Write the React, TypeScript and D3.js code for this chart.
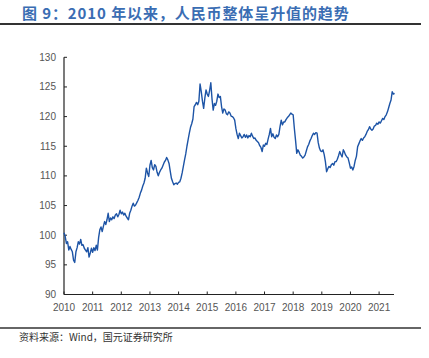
import React from "react";
import * as d3 from "d3";

const title = "图 9：2010 年以来，人民币整体呈升值的趋势";
const source = "资料来源：Wind，国元证券研究所";
const yTicks = [90, 95, 100, 105, 110, 115, 120, 125, 130];
const xTickYears = [2010, 2011, 2012, 2013, 2014, 2015, 2016, 2017, 2018, 2019, 2020, 2021];

// semi-monthly readings per year
const v2010 = [100.4, 99.8, 98.6, 98.9, 97.5, 98.1, 97.6, 97.2, 95.8, 95.4, 97.2, 97.9, 98.9, 98.5, 99.3, 98.3, 98.4, 97.8, 97.5, 97.2, 97.9, 96.3, 97.0, 97.8];
const v2011 = [97.1, 97.9, 97.4, 98.3, 97.5, 99.6, 100.9, 101.4, 100.6, 101.5, 102.3, 101.8, 102.6, 103.7, 102.3, 102.9, 102.6, 103.1, 102.8, 103.4, 103.6, 103.1, 103.5, 104.2];
const v2012 = [103.6, 103.9, 103.4, 103.7, 103.2, 102.9, 102.6, 103.7, 104.2, 104.9, 105.4, 104.9, 105.1, 105.5, 105.9, 106.4, 107.1, 107.6, 108.3, 108.8, 109.6, 111.3, 110.5, 109.9];
const v2013 = [111.8, 112.6, 111.4, 111.0, 111.9, 111.6, 110.6, 110.0, 110.6, 111.0, 111.3, 111.8, 112.3, 112.6, 113.1, 112.7, 112.1, 110.8, 109.6, 109.0, 108.5, 108.7, 108.8, 108.6];
const v2014 = [108.9, 109.0, 109.6, 110.5, 111.6, 112.7, 113.7, 115.0, 116.1, 117.2, 118.2, 118.8, 119.6, 121.7, 122.0, 122.4, 122.0, 122.6, 125.5, 124.2, 122.6, 121.4, 123.1, 124.5];
const v2015 = [123.8, 123.4, 124.4, 125.7, 123.0, 121.1, 122.2, 121.9, 122.6, 123.8, 123.2, 123.4, 121.7, 120.6, 121.3, 121.1, 120.5, 120.3, 120.8, 120.6, 120.1, 120.0, 119.8, 119.4];
const v2016 = [118.0, 117.0, 116.3, 117.2, 116.8, 116.4, 116.6, 117.0, 116.5, 116.9, 116.4, 116.8, 116.6, 117.2, 116.7, 116.3, 116.4, 116.0, 115.8, 115.6, 115.1, 114.8, 114.1, 115.2];
const v2017 = [115.0, 115.5, 115.3, 116.2, 117.0, 118.0, 116.6, 117.1, 116.5, 116.3, 116.9, 116.6, 117.0, 118.3, 119.4, 118.6, 119.1, 119.1, 119.5, 119.8, 120.0, 120.3, 120.6, 120.4];
const v2018 = [120.3, 118.0, 116.0, 113.8, 114.4, 114.0, 113.5, 113.3, 113.0, 113.2, 113.5, 114.2, 114.9, 115.3, 115.9, 116.3, 116.8, 117.2, 117.0, 117.3, 117.2, 115.6, 114.7, 114.2];
const v2019 = [114.1, 114.4, 113.6, 112.4, 110.7, 111.2, 111.6, 111.4, 111.9, 112.1, 111.8, 112.4, 112.4, 112.8, 113.4, 114.1, 113.6, 113.2, 114.4, 114.0, 113.5, 113.2, 113.0, 112.2];
const v2020 = [111.3, 111.5, 111.0, 111.6, 112.6, 113.3, 114.9, 115.4, 115.9, 116.3, 116.0, 116.4, 116.6, 117.0, 117.5, 117.8, 118.3, 117.9, 117.7, 117.9, 118.4, 118.5, 118.9, 118.7];
const v2021 = [119.1, 118.9, 119.3, 119.7, 119.5, 120.0, 120.3, 120.8, 121.5, 122.2, 122.8, 124.2, 123.8, 123.9];

const yearly: [number, number[]][] = [
  [2010, v2010], [2011, v2011], [2012, v2012], [2013, v2013], [2014, v2014], [2015, v2015],
  [2016, v2016], [2017, v2017], [2018, v2018], [2019, v2019], [2020, v2020], [2021, v2021],
];

const series = yearly.flatMap(([yr, vals]) => vals.map((v, i) => ({ t: yr + i / 24, v })));

export default function App() {
  const W = 429, H = 358;
  const x = d3.scaleLinear().domain([2010, 2021.52]).range([64, 394]);
  const y = d3.scaleLinear().domain([90, 130]).range([294.5, 57.3]);
  const line = d3.line<{ t: number; v: number }>().x(d => x(d.t)).y(d => y(d.v));
  const axisColor = "#222";
  const labelColor = "#555";
  const font = "Liberation Sans, Arial, sans-serif";
  return (
    <svg width={W} height={H} style={{ position: "absolute", left: 0, top: 0, background: "#fff" }}>
      <text x={22} y={19} fontSize={15} fontWeight="bold" fill="#3A6DB3" letterSpacing={0.9} fontFamily="Noto Sans CJK SC, sans-serif">{title}</text>
      <line x1={0} x2={421} y1={24} y2={24} stroke="#333" strokeWidth={2} />
      {/* y axis */}
      <line x1={64} x2={64} y1={y(130)} y2={y(90)} stroke={axisColor} strokeWidth={1.2} />
      {yTicks.map(t => (
        <g key={t}>
          <line x1={64} x2={67} y1={y(t)} y2={y(t)} stroke={axisColor} />
          <text x={56} y={y(t) + 3.5} fontSize={10} textAnchor="end" fill={labelColor} fontFamily={font}>{t}</text>
        </g>
      ))}
      {/* x axis */}
      <line x1={64} x2={394} y1={y(90)} y2={y(90)} stroke={axisColor} strokeWidth={1.2} />
      {xTickYears.map(t => (
        <g key={t}>
          <line x1={x(t)} x2={x(t)} y1={y(90)} y2={y(90) - 3} stroke={axisColor} />
          <text x={x(t)} y={311} fontSize={10} textAnchor="middle" fill={labelColor} fontFamily={font}>{t}</text>
        </g>
      ))}
      <path d={line(series) || ""} fill="none" stroke="#1D54A6" strokeWidth={1.4} strokeLinejoin="round" />
      <line x1={0} x2={421} y1={328} y2={328} stroke="#333" strokeWidth={1.5} />
      <text x={19} y={341} fontSize={10} fill="#333" fontFamily="Noto Sans CJK SC, sans-serif">{source}</text>
    </svg>
  );
}
